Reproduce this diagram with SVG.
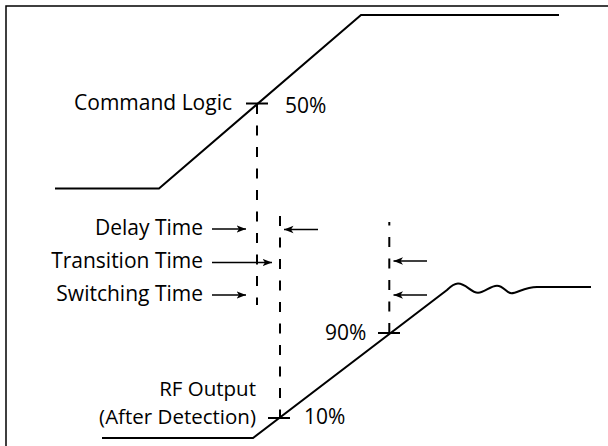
<svg xmlns="http://www.w3.org/2000/svg" width="608" height="446" viewBox="0 0 608 446">
<style>
.wave{fill:none;stroke:#000;stroke-width:2;stroke-linejoin:miter}
.tick{fill:none;stroke:#000;stroke-width:2}
.dash{fill:none;stroke:#000;stroke-width:2;stroke-dasharray:10 11.5}
.arr{fill:none;stroke:#000;stroke-width:1.3;marker-end:url(#ah)}
text{font-family:"Open Sans","Noto Sans","Liberation Sans",sans-serif;font-size:21px;fill:#000}
.e{text-anchor:end}
.s{font-size:20.5px}
</style>
<defs>
<marker id="ah" markerUnits="userSpaceOnUse" markerWidth="12" markerHeight="10" refX="9.5" refY="5" orient="auto" viewBox="0 0 12 10">
<path d="M0,1.3 L9.5,5 L0,8.7 L2.5,5 z" fill="#000"/>
</marker>
</defs>
<rect x="6" y="6" width="700" height="600" fill="none" stroke="#000" stroke-width="1.5"/>
<g id="command-logic">
<path class="wave" d="M55,188.5 L159,188.5 L361,15 L559,15"/>
<path class="tick" d="M246,103.5 L268,103.5"/>
<text class="e" x="232" y="110">Command Logic</text>
<text x="285" y="113">50%</text>
</g>
<g id="rf-output">
<path class="wave" d="M102,438 L253,438 L447,290 C451,286 454,283.5 458,283.5 C466,283.5 471,292.7 478,292.7 C485,292.7 490,285.7 497,285.7 C504,285.7 506,293.3 511.5,293.3 C517,293.3 525,287 537,287 L591,287"/>
<path class="tick" d="M268,418 L290,418"/>
<path class="tick" d="M378,333 L400,333"/>
<text class="e s" x="256" y="395.5">RF Output</text>
<text class="e s" x="256" y="423.5">(After Detection)</text>
<text x="304" y="424">10%</text>
<text x="325" y="340">90%</text>
</g>
<g id="labels">
<text class="e" x="203" y="235">Delay Time</text>
<text class="e" x="203" y="268">Transition Time</text>
<text class="e" x="203" y="301">Switching Time</text>
</g>
<g id="connectors">
<path class="dash" d="M257,104 L257,305"/>
<path class="dash" d="M280,216 L280,417"/>
<path class="dash" d="M389.3,333 L389.3,222"/>
<path class="arr" d="M212,229 L246,229"/>
<path class="arr" d="M212,262.5 L272,262.5"/>
<path class="arr" d="M212,295 L246,295"/>
<path class="arr" d="M318,229.5 L284,229.5"/>
<path class="arr" d="M427,261 L393.5,261"/>
<path class="arr" d="M427,295 L393.5,295"/>
</g>
</svg>
